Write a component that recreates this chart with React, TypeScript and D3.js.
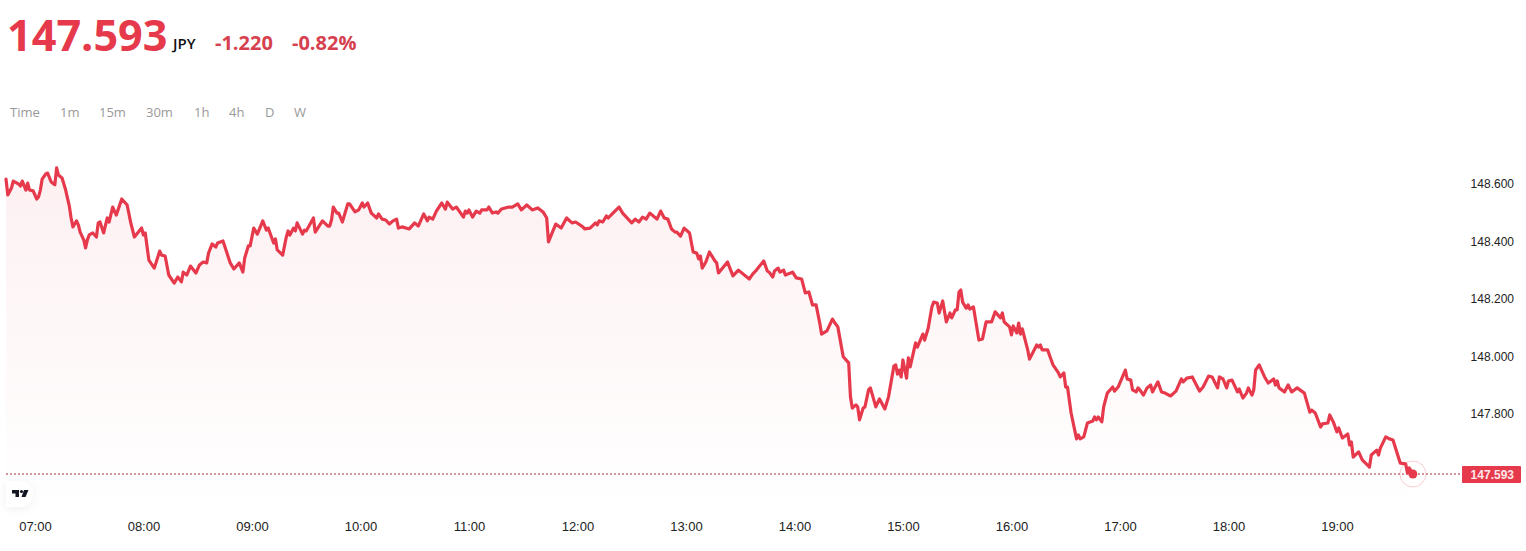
import React from "react";
import * as d3 from "d3";

// minutes since 06:44
const minutes = [0,1,3,4,7,8,9,11,12,13,15,17,18,19,20,22,23,25,27,28,29,31,33,34,35,36,37,39,40,41,43,44,45,46,48,50,51,52,54,56,57,59,61,64,67,69,71,75,76,77,79,82,85,86,88,90,93,95,97,98,100,102,105,107,109,111,112,114,116,117,120,124,126,129,131,132,134,135,137,139,142,144,145,148,149,150,153,155,156,157,159,160,161,164,165,166,170,171,175,178,179,180,181,183,184,186,189,190,193,195,197,198,200,202,205,206,208,210,212,214,216,217,219,223,226,228,231,233,234,236,238,241,243,244,247,249,253,254,255,256,258,260,262,263,266,267,269,271,272,274,278,280,283,285,288,291,294,297,299,300,302,304,307,310,313,315,319,320,323,326,327,328,330,332,333,339,341,346,348,350,352,354,356,360,362,364,366,368,370,371,373,375,378,380,382,383,384,385,387,389,392,393,394,399,402,405,411,413,415,419,421,422,424,425,427,428,430,431,435,437,440,442,444,446,448,450,451,454,457,458,460,462,463,466,467,468,470,471,472,474,475,477,478,481,483,486,488,491,492,493,494,495,496,498,499,500,503,504,507,508,510,512,513,515,516,518,520,522,523,525,526,527,528,529,531,532,533,535,538,540,542,545,547,550,551,552,555,556,557,559,560,561,562,565,566,570,571,572,573,576,578,579,582,583,585,586,587,589,592,593,594,596,598,601,602,603,604,606,607,609,612,613,615,619,620,622,623,625,626,627,629,631,633,634,637,639,641,644,647,650,651,653,656,660,662,665,667,670,671,673,675,676,678,681,682,684,686,687,689,690,691,693,696,698,701,702,703,704,707,709,711,714,718,721,722,724,727,728,731,732,734,736,737,739,742,743,744,745,748,750,754,755,758,759,760,763,765,767,771,774,775,776,778];
const prices = [148.617,148.562,148.586,148.610,148.600,148.593,148.610,148.579,148.603,148.579,148.576,148.548,148.555,148.579,148.617,148.635,148.638,148.607,148.597,148.656,148.631,148.621,148.579,148.551,148.524,148.482,148.451,148.472,148.458,148.433,148.406,148.378,148.406,148.423,148.430,148.416,148.465,148.468,148.430,148.482,148.468,148.520,148.492,148.548,148.527,148.465,148.416,148.447,148.423,148.430,148.336,148.308,148.367,148.353,148.350,148.284,148.256,148.277,148.260,148.294,148.284,148.315,148.291,148.319,148.329,148.326,148.360,148.392,148.381,148.395,148.402,148.326,148.305,148.326,148.294,148.343,148.385,148.385,148.447,148.426,148.472,148.440,148.447,148.395,148.409,148.371,148.353,148.416,148.437,148.423,148.447,148.437,148.465,148.426,148.440,148.437,148.482,148.433,148.472,148.454,148.454,148.475,148.520,148.499,148.499,148.468,148.531,148.531,148.503,148.510,148.534,148.520,148.534,148.499,148.482,148.496,148.478,148.475,148.461,148.472,148.478,148.447,148.451,148.444,148.465,148.454,148.496,148.472,148.485,148.478,148.506,148.534,148.513,148.537,148.513,148.520,148.485,148.506,148.499,148.510,148.485,148.506,148.499,148.510,148.510,148.520,148.499,148.503,148.499,148.513,148.520,148.520,148.531,148.510,148.527,148.510,148.517,148.503,148.482,148.399,148.430,148.461,148.447,148.482,148.465,148.468,148.451,148.444,148.447,148.465,148.458,148.472,148.468,148.489,148.482,148.520,148.499,148.465,148.478,148.468,148.485,148.478,148.499,148.478,148.506,148.482,148.478,148.444,148.433,148.433,148.419,148.447,148.430,148.364,148.360,148.340,148.350,148.308,148.329,148.364,148.333,148.326,148.291,148.329,148.281,148.301,148.270,148.288,148.301,148.333,148.298,148.294,148.277,148.298,148.308,148.294,148.301,148.284,148.294,148.274,148.270,148.222,148.225,148.180,148.180,148.117,148.079,148.090,148.131,148.121,148.104,148.034,148.000,147.979,147.860,147.822,147.833,147.826,147.781,147.822,147.826,147.885,147.892,147.826,147.854,147.819,147.860,147.968,147.972,147.940,147.954,147.930,147.989,147.926,147.996,147.965,148.048,148.034,148.079,148.058,148.100,148.173,148.190,148.187,148.152,148.194,148.121,148.152,148.135,148.163,148.163,148.225,148.232,148.190,148.169,148.180,148.166,148.173,148.058,148.062,148.121,148.121,148.156,148.135,148.152,148.121,148.104,148.076,148.107,148.083,148.117,148.079,148.097,148.024,147.992,148.041,148.034,148.041,148.024,148.024,147.989,147.972,147.944,147.930,147.944,147.895,147.895,147.805,147.715,147.729,147.715,147.722,147.770,147.777,147.791,147.781,147.791,147.774,147.826,147.874,147.895,147.881,147.895,147.954,147.923,147.919,147.885,147.878,147.892,147.885,147.867,147.892,147.902,147.878,147.913,147.878,147.874,147.864,147.881,147.923,147.913,147.926,147.930,147.881,147.895,147.933,147.930,147.892,147.930,147.923,147.892,147.916,147.919,147.878,147.888,147.857,147.874,147.892,147.867,147.885,147.954,147.972,147.930,147.909,147.923,147.902,147.916,147.892,147.878,147.902,147.878,147.892,147.874,147.808,147.815,147.805,147.756,147.767,147.770,147.798,147.774,147.739,147.753,147.718,147.732,147.694,147.704,147.652,147.670,147.642,147.617,147.659,147.676,147.659,147.683,147.722,147.715,147.711,147.631,147.628,147.597,147.614,147.593];

const priceTicks = [148.6, 148.4, 148.2, 148.0, 147.8];
const timeTicks = ["07:00","08:00","09:00","10:00","11:00","12:00","13:00","14:00","15:00","16:00","17:00","18:00","19:00"];
const timeTickMinutes = [16,76,136,196,256,316,376,436,496,556,616,676,736];
const intervals = ["Time","1m","15m","30m","1h","4h","D","W"];
const intervalX = [10,60,99,146,194,229,265,294];

const lastPrice = 147.593;
const RED = "#e63a4c";
const RED2 = "#d6404f";
const SANS = "'Open Sans', sans-serif";
const AXIS = "'Liberation Sans', Arial, sans-serif";

export default function App() {
  const x = d3.scaleLinear().domain([0, 780]).range([6, 1416.5]);
  const y = d3.scaleLinear().domain([148.6, 147.8]).range([184, 414.4]);
  const idx = d3.range(minutes.length);
  const line = d3.line<number>().x(i => x(minutes[i])).y(i => y(prices[i]));
  const area = d3.area<number>().x(i => x(minutes[i])).y0(505).y1(i => y(prices[i]));
  const lx = x(minutes[minutes.length - 1]);
  const ly = y(lastPrice);
  return (
    <svg width={1526} height={551} style={{ position: "absolute", left: 0, top: 0, display: "block", background: "#fff" }}>
      <defs>
        <linearGradient id="fill" gradientUnits="userSpaceOnUse" x1="0" y1="168" x2="0" y2="505">
          <stop offset="0" stopColor={RED} stopOpacity={0.075} />
          <stop offset="1" stopColor={RED} stopOpacity={0} />
        </linearGradient>
        <filter id="sh" x="-50%" y="-50%" width="200%" height="200%">
          <feDropShadow dx="0" dy="2" stdDeviation="4" floodColor="#000" floodOpacity="0.06" />
        </filter>
      </defs>

      <text x={7} y={51} fontFamily={SANS} fontWeight={700} fontSize={43.2} fill={RED}>147.593</text>
      <text x={173} y={49} fontFamily={SANS} fontWeight={600} fontSize={15} fill="#111">JPY</text>
      <text x={215} y={49.5} fontFamily={SANS} fontWeight={700} fontSize={20} fill={RED2}>-1.220</text>
      <text x={292} y={49.5} fontFamily={SANS} fontWeight={700} fontSize={20} fill={RED2}>-0.82%</text>

      {intervals.map((t, i) => (
        <text key={t} x={intervalX[i]} y={117} fontFamily={SANS} fontSize={13} fill="#999">{t}</text>
      ))}

      <path d={area(idx) ?? ""} fill="url(#fill)" />
      <line x1={6} x2={1461} y1={ly} y2={ly} stroke="#a82c3a" strokeWidth={1} strokeDasharray="2 2" />
      <path d={line(idx) ?? ""} fill="none" stroke={RED} strokeWidth={3.2} strokeLinejoin="round" strokeLinecap="round" />
      <circle cx={lx} cy={ly} r={13} fill="none" stroke={RED} strokeOpacity={0.25} strokeWidth={1} />
      <circle cx={lx} cy={ly} r={4.5} fill={RED} />

      {priceTicks.map(v => (
        <text key={v} x={1514} y={y(v) + 4} textAnchor="end" fontFamily={AXIS} fontSize={12} fill="#222">{v.toFixed(3)}</text>
      ))}
      <rect x={1462} y={ly - 8} width={59} height={17} rx={1} fill={RED} />
      <text x={1514} y={ly + 4.5} textAnchor="end" fontFamily={AXIS} fontSize={12} fontWeight={700} fill="#fde8ea">{lastPrice.toFixed(3)}</text>

      {timeTicks.map((t, i) => (
        <text key={t} x={x(timeTickMinutes[i]) + 0.5} y={531} textAnchor="middle" fontFamily={AXIS} fontSize={13} fill="#222">{t}</text>
      ))}

      <path d="M6 481 H20 A13 13 0 0 1 20 507 H6 Z" fill="#fff" filter="url(#sh)" />
      <path d="M12 490 H19 V497 H15.5 V493.5 H12 Z M24 490 H28.5 L25.5 497 H21.5 Z" fill="#131722" />
      <circle cx={21.5} cy={491.5} r={1.6} fill="#131722" />
    </svg>
  );
}
